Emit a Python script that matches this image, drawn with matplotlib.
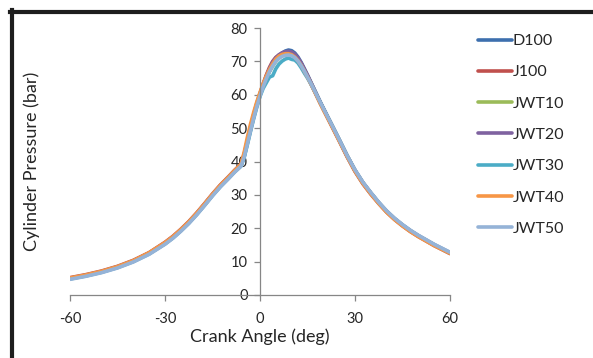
import matplotlib
matplotlib.use("Agg")
from matplotlib import pyplot as plt
from matplotlib.lines import Line2D

plt.rcParams['font.family'] = ['Lato', 'DejaVu Sans']
plt.rcParams['axes.unicode_minus'] = False

# crank angle (deg)
angle = [-60, -55, -50, -45, -40, -35, -30, -27.5, -25, -22.5, -20, -17.5, -15, -12.5, -10, -8, -6,
         -5, -4, -3, -2, -1, 0, 1, 2, 3, 4, 5, 6, 7, 8, 9, 10, 11, 12, 13, 14, 15, 16, 17, 18, 19, 20,
         22.5, 25, 27.5, 30, 32.5, 35, 37.5, 40, 42.5, 45, 47.5, 50, 55, 60]

# cylinder pressure (bar)
d100 = [4.9, 5.8, 6.9, 8.3, 10.1, 12.4, 15.4, 17.2, 19.3, 21.6, 24.2, 27.0, 29.9, 32.6, 35.0, 37.0, 38.8,
        41.5, 45.5, 49.5, 53.3, 56.8, 59.9, 62.7, 65.1, 67.1, 68.9, 70.4, 71.6, 72.5, 73.1, 73.4, 73.2, 72.5,
        71.3, 69.7, 67.8, 65.9, 63.9, 61.9, 59.9, 57.9, 56.0,
        51.3, 46.6, 41.8, 37.4, 33.7, 30.6, 27.7, 25.1, 22.9, 21.0, 19.3, 17.8, 15.1, 12.7]
j100 = [5.2, 6.1, 7.2, 8.6, 10.4, 12.7, 15.8, 17.6, 19.7, 22.0, 24.6, 27.4, 30.3, 33.0, 35.4, 37.4, 39.2,
        42.2, 46.2, 50.2, 54.0, 57.4, 60.4, 63.3, 65.9, 68.2, 70.0, 71.2, 71.9, 72.4, 72.8, 72.9, 72.7, 72.0,
        70.8, 69.3, 67.4, 65.5, 63.5, 61.5, 59.5, 57.5, 55.6,
        50.9, 46.2, 41.4, 37.0, 33.3, 30.2, 27.4, 24.8, 22.6, 20.7, 19.0, 17.5, 14.8, 12.4]
jwt10 = [5.0, 5.9, 7.0, 8.4, 10.2, 12.5, 15.5, 17.3, 19.4, 21.7, 24.3, 27.1, 30.0, 32.7, 35.1, 37.1, 38.9,
         42.0, 46.0, 50.2, 54.0, 57.4, 60.3, 62.9, 65.2, 67.0, 68.6, 70.0, 71.0, 71.8, 72.2, 72.3, 72.1, 71.5,
         70.5, 69.1, 67.4, 65.5, 63.6, 61.6, 59.7, 57.7, 55.8,
         51.2, 46.5, 41.7, 37.3, 33.6, 30.5, 27.6, 25.0, 22.8, 20.9, 19.2, 17.7, 15.0, 12.6]
jwt20 = [5.0, 5.9, 7.0, 8.4, 10.2, 12.6, 15.6, 17.4, 19.5, 21.8, 24.4, 27.2, 30.1, 32.8, 35.2, 37.2, 39.0,
         41.8, 45.8, 49.8, 53.6, 57.0, 60.1, 63.0, 65.6, 67.9, 69.8, 71.1, 72.0, 72.6, 72.9, 73.0, 72.8, 72.1,
         71.0, 69.5, 67.7, 65.8, 63.8, 61.8, 59.8, 57.8, 55.9,
         51.2, 46.5, 41.7, 37.3, 33.6, 30.5, 27.6, 25.0, 22.8, 20.9, 19.2, 17.7, 15.0, 12.6]
jwt30 = [4.8, 5.7, 6.8, 8.2, 10.0, 12.3, 15.3, 17.1, 19.2, 21.5, 24.1, 26.9, 29.8, 32.5, 34.9, 36.9, 38.6,
         41.2, 45.0, 49.0, 52.8, 56.3, 59.5, 61.9, 63.6, 65.3, 65.7, 67.8, 69.2, 70.1, 70.7, 71.0, 70.6, 70.4,
         69.5, 68.1, 66.5, 65.0, 63.3, 61.5, 59.6, 57.7, 55.8,
         51.2, 46.5, 41.7, 37.3, 33.6, 30.5, 27.6, 25.0, 22.8, 20.9, 19.2, 17.7, 15.0, 12.6]
jwt40 = [5.1, 6.0, 7.1, 8.5, 10.3, 12.7, 15.7, 17.5, 19.6, 21.9, 24.5, 27.3, 30.2, 32.9, 35.3, 37.3, 39.2,
         42.8, 47.2, 51.2, 54.7, 57.9, 60.7, 63.3, 65.6, 67.6, 69.3, 70.7, 71.6, 72.1, 72.3, 72.3, 72.0, 71.3,
         70.2, 68.8, 67.1, 65.3, 63.4, 61.4, 59.4, 57.4, 55.5,
         50.9, 46.2, 41.5, 37.1, 33.4, 30.3, 27.4, 24.8, 22.6, 20.7, 19.0, 17.5, 14.8, 12.5]
jwt50 = [4.7, 5.6, 6.7, 8.1, 9.9, 12.2, 15.2, 17.0, 19.1, 21.4, 24.0, 26.8, 29.7, 32.4, 34.8, 36.8, 38.6,
         41.3, 45.2, 49.2, 53.0, 56.5, 59.6, 62.4, 64.8, 66.9, 68.6, 70.0, 70.9, 71.5, 71.8, 71.9, 71.7, 71.1,
         70.1, 68.7, 67.1, 65.3, 63.5, 61.6, 59.7, 57.8, 55.9,
         51.3, 46.6, 41.8, 37.5, 33.8, 30.7, 27.8, 25.2, 23.0, 21.1, 19.4, 17.9, 15.2, 12.8]

series = [("D100", d100, "#3d6fae"),
          ("J100", j100, "#c0504d"),
          ("JWT10", jwt10, "#9bbb59"),
          ("JWT20", jwt20, "#7f62a0"),
          ("JWT30", jwt30, "#4bacc6"),
          ("JWT40", jwt40, "#f79646"),
          ("JWT50", jwt50, "#95b3d7")]

fig = plt.figure(figsize=(5.93, 3.58), dpi=100)
ax = fig.add_axes([70 / 593, 1 - 295 / 358, 380 / 593, 267 / 358])

for name, vals, col in series:
    ax.plot(angle, vals, color=col, lw=2.6, label=name, solid_capstyle='round',
            solid_joinstyle='round')

ax.set_xlim(-60, 60)
ax.set_ylim(0, 80)
ax.set_xticks([-60, -30, 0, 30, 60])
ax.set_yticks(range(0, 81, 10))

ax.spines['left'].set_position(('data', 0))
ax.spines['bottom'].set_position(('data', 0))
ax.spines['top'].set_visible(False)
ax.spines['right'].set_visible(False)
for s in ['left', 'bottom']:
    ax.spines[s].set_color('#868686')
    ax.spines[s].set_linewidth(0.9)
ax.tick_params(direction='out', length=4, width=0.9, color='#868686',
               labelsize=10.5, labelcolor='#262626')
ax.tick_params(axis='x', pad=8)
ax.tick_params(axis='y', pad=5)

ax.set_xlabel("Crank Angle (deg)", fontsize=13, color='#262626', labelpad=2)
ax.set_ylabel("Cylinder Pressure (bar)", fontsize=13, color='#262626')
ax.yaxis.set_label_coords(-0.08, 0.5)

leg = ax.legend(loc='upper left', bbox_to_anchor=(478 / 593, 1 - 34 / 358),
                bbox_transform=fig.transFigure, frameon=False, fontsize=11.5,
                handlelength=2.1, handletextpad=0.05, labelspacing=1.07,
                borderpad=0, borderaxespad=0)
for t in leg.get_texts():
    t.set_color('#262626')

# outer chart border (left and top only visible)
fig.add_artist(Line2D([11.5 / 593, 11.5 / 593], [0, 1 - 10 / 358],
                      transform=fig.transFigure, color='#1e1e1e', lw=3))
fig.add_artist(Line2D([10 / 593, 1], [1 - 11.5 / 358, 1 - 11.5 / 358],
                      transform=fig.transFigure, color='#1e1e1e', lw=3))

fig.savefig("out.png", dpi=100)
